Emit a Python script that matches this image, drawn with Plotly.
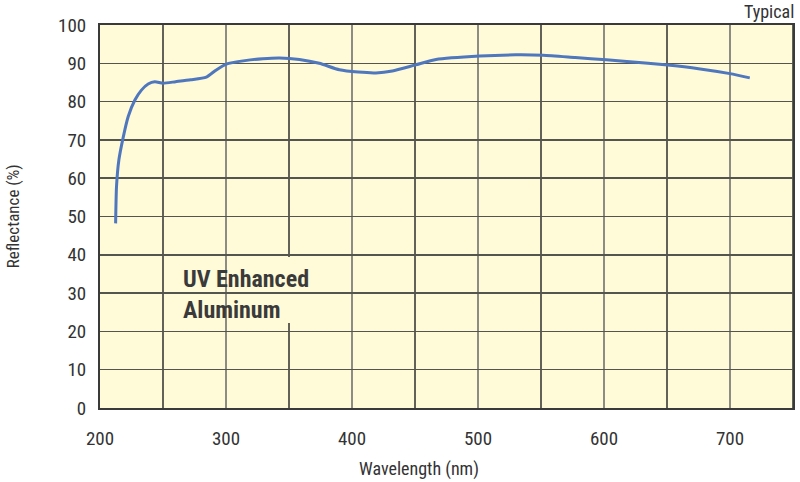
import plotly.graph_objects as go

wavelength = [212.4, 213.1, 215.0, 218.5, 222.4, 227.7, 232.9, 238.2, 243.5, 250.0,
              260, 272, 284.4, 292, 300.2, 315, 329.2, 342.5, 358.3, 374, 390, 405, 419,
              432, 450.5, 466.7, 501.5, 529.8, 551.6, 577.2, 601.8, 635, 648.4, 675, 700, 715.7]
reflectance = [48.2, 57.8, 64.8, 70.8, 76.1, 80.4, 83.0, 84.6, 85.2, 84.8,
               85.2, 85.7, 86.4, 88.2, 89.8, 90.7, 91.2, 91.4, 91.0, 90.0, 88.3, 87.7, 87.5,
               88.0, 89.6, 91.0, 91.9, 92.2, 92.1, 91.5, 90.9, 90.0, 89.6, 88.6, 87.3, 86.2]

x_ticks = [200, 300, 400, 500, 600, 700]
x_minor = [250, 350, 450, 550, 650, 750]
y_ticks = [0, 10, 20, 30, 40, 50, 60, 70, 80, 90, 100]
label_text = "UV Enhanced<br>Aluminum"

FONT = "Liberation Sans Narrow, Roboto Condensed, DejaVu Sans Condensed, Arial Narrow, sans-serif"
TXT = "#333333"

fig = go.Figure()
fig.add_trace(go.Scatter(x=wavelength, y=reflectance, mode="lines",
                         line=dict(color="#4f77bd", width=3, shape="spline", smoothing=0.6),
                         hoverinfo="skip", showlegend=False))

shapes = []
for xv in x_minor:
    shapes.append(dict(type="line", xref="x", yref="y", x0=xv, x1=xv, y0=0, y1=100,
                       line=dict(color="#2f2f2f", width=1.5), layer="below"))
# label background box
shapes.append(dict(type="rect", xref="x", yref="y", x0=259.5, x1=390, y0=22.2, y1=39.4,
                   fillcolor="#fffad8", line=dict(width=0), layer="below"))

fig.update_layout(
    width=800, height=482,
    margin=dict(l=100, r=5, t=25, b=74),
    paper_bgcolor="white",
    plot_bgcolor="#fffad8",
    font=dict(family=FONT, color=TXT, size=19),
    shapes=shapes,
    xaxis=dict(range=[200, 750], tickvals=x_ticks, ticktext=[str(v) for v in x_ticks],
               showgrid=True, gridcolor="#8c8c84", gridwidth=2,
               showline=True, linecolor="#3a3a3a", linewidth=2, mirror=True,
               ticks="", ticklabelstandoff=12, zeroline=False,
               tickfont=dict(size=19, family=FONT, color=TXT)),
    yaxis=dict(range=[0, 100], tickvals=y_ticks,
               showgrid=True, gridcolor="#555550", gridwidth=1.5,
               showline=True, linecolor="#3a3a3a", linewidth=2, mirror=True,
               ticks="", ticklabelstandoff=8, zeroline=False,
               tickfont=dict(size=19, family=FONT, color=TXT)),
    annotations=[
        dict(text=label_text, x=264.5, y=37.8, xref="x", yref="y", xanchor="left", yanchor="top",
             align="left", showarrow=False,
             font=dict(family=FONT, size=24, color="#3a3a3a", weight="bold")),
        dict(text="Typical", x=1, y=1, xref="paper", yref="paper", showarrow=False,
             font=dict(family=FONT, size=18, color=TXT)),
        dict(text="Wavelength (nm)", x=0.5, y=0, xref="paper", yref="paper", showarrow=False,
             font=dict(family=FONT, size=18, color=TXT)),
        dict(text="Reflectance (%)", x=0, y=0, xref="paper", yref="paper", showarrow=False,
             textangle=-90, font=dict(family=FONT, size=17, color=TXT)),
    ],
)

# position paper annotations in pixels
W, H = 800, 482
pl, pr, pt, pb = 100, 5, 25, 74
pw, ph = W - pl - pr, H - pt - pb
def px_to_paper(px, py):
    return (px - pl) / pw, (H - pb - py) / ph

anns = list(fig.layout.annotations)
x, y = px_to_paper(798, 11)
anns[1].update(x=x, y=y, xanchor="right", yanchor="middle")
x, y = px_to_paper(420, 469)
anns[2].update(x=x, y=y, xanchor="center", yanchor="middle")
x, y = px_to_paper(13, 216)
anns[3].update(x=x, y=y, xanchor="center", yanchor="middle")
fig.layout.annotations = anns

fig.write_html("out.html", config={"displayModeBar": False, "staticPlot": True},
               post_script="document.body.style.margin='0px';document.body.style.overflow='hidden';")
